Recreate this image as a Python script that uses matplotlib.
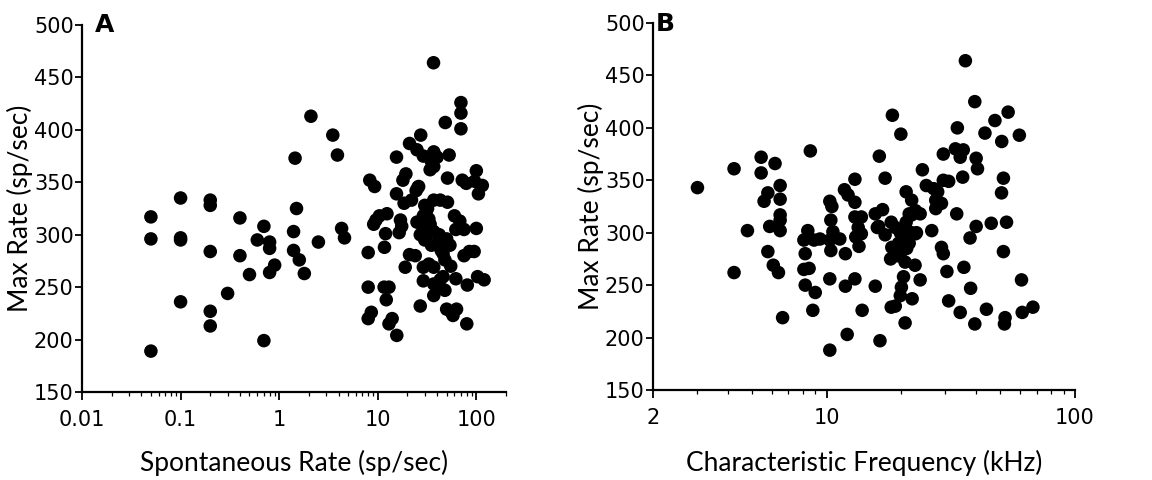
import matplotlib
matplotlib.use("Agg")
import matplotlib.pyplot as plt
from matplotlib.ticker import LogLocator, FixedLocator, FixedFormatter, NullFormatter

plt.rcParams['font.family'] = ['Lato', 'DejaVu Sans']

# ---------------- Panel A data: spontaneous rate vs max rate ----------------
spont_rate = [
    0.05, 0.05, 0.05, 0.1, 0.1, 0.1, 0.1, 0.2, 0.2, 0.2, 0.2, 0.2,
    0.3, 0.4, 0.4, 0.5, 0.6, 0.7, 0.7, 0.8, 0.8, 0.8, 0.9,
    1.4, 1.5, 1.45, 1.4, 1.6, 1.8, 2.1, 2.5, 3.5, 3.9, 4.3, 4.6,
    36.8, 69.8, 69.8, 69.8, 48.4, 27.3, 21.0, 25.0, 29.0, 37.0, 40.0, 35.0, 37.0,
    53.0, 15.5, 19.3, 18.0, 26.0, 24.5, 25.5, 22.0, 51.0, 72.0, 79.0, 96.0, 115.0,
    105.0, 100.0, 15.5, 18.5, 37.0, 43.0, 51.0, 30.0, 31.0, 29.0, 32.0, 25.0,
    28.0, 33.0, 37.0, 60.0, 68.0, 75.0, 62.0, 100.0, 17.0, 17.5, 16.5, 12.0,
    12.4, 10.4, 9.6, 9.1, 11.7, 8.0, 24.0, 19.0, 31.0, 30.0, 35.0, 40.0, 44.0,
    46.0, 50.0, 48.0, 54.0, 29.0, 37.0, 33.0, 29.0, 37.0, 40.0, 37.0, 46.0,
    48.0, 43.0, 62.0, 75.0, 85.0, 95.0, 81.0, 103.0, 120.0, 27.0, 50.0, 56.0,
    63.0, 58.0, 80.0, 8.0, 8.0, 8.6, 8.3, 9.3, 11.6, 13.0, 12.2, 13.0, 14.0,
    15.6, 21.0, 34.0, 42.0, 33.0, 55.0, 27.0, 31.0, 34.0, 30.0, 45.0,
]
max_rate_a = [
    317, 296, 189, 335, 297, 295, 236, 333, 328, 284, 227, 213,
    244, 316, 280, 262, 295, 308, 199, 293, 287, 264, 271,
    303, 325, 373, 285, 276, 263, 413, 293, 395, 376, 306, 297,
    464, 426, 416, 401, 407, 395, 387, 381, 375, 379, 374, 370, 365,
    376, 374, 358, 352, 346, 342, 345, 333, 354, 352, 349, 351, 347,
    339, 361, 339, 330, 333, 333, 331, 328, 322, 318, 325, 312,
    310, 308, 303, 318, 313, 305, 305, 306, 314, 308, 302, 301,
    320, 318, 314, 310, 288, 283, 280, 269, 300, 295, 290, 292, 285,
    282, 296, 276, 290, 269, 269, 272, 256, 253, 250, 242, 260,
    247, 257, 258, 280, 284, 284, 252, 260, 257, 232, 229, 226,
    229, 223, 215, 250, 220, 226, 352, 346, 250, 250, 238, 215, 220,
    204, 281, 362, 300, 315, 270, 300, 305, 310, 296, 288,
]

# ---------------- Panel B data: characteristic frequency vs max rate ----------------
char_freq = [
    3.02, 4.24, 4.24, 4.8, 5.45, 5.45, 5.8, 5.6, 6.2, 6.5, 6.5, 6.5, 6.5, 6.5,
    5.9, 5.8, 6.1, 6.4, 6.65, 8.4, 8.1, 8.9, 8.2, 8.1, 8.5, 8.2, 8.6, 9.0, 8.8,
    9.4, 10.3, 10.5, 10.4, 10.6, 10.3, 10.4, 11.3, 11.8, 12.2, 11.9, 10.3, 11.9,
    12.1, 10.3, 13.0, 13.0, 13.0, 13.8, 13.4, 13.8, 13.1, 13.5, 13.0, 13.9, 15.7,
    16.3, 17.2, 15.7, 16.8, 16.2, 17.2, 18.4, 19.9, 18.3, 18.1, 19.4, 18.2, 18.9,
    19.8, 20.3, 20.6, 20.9, 21.5, 19.8, 20.7, 22.0, 21.5, 22.8, 23.8, 20.9, 22.0,
    22.8, 22.0, 20.4, 20.0, 19.8, 18.9, 18.2, 20.7, 16.4, 22.7, 23.8, 22.1, 24.3,
    25.2, 27.0, 28.0, 27.5, 29.0, 27.5, 29.5, 31.0, 26.5, 29.0, 29.5, 30.5, 31.0,
    29.5, 33.0, 34.5, 35.5, 34.5, 33.6, 36.2, 35.3, 33.4, 39.5, 40.0, 40.5, 37.8,
    40.0, 35.7, 38.0, 34.5, 39.5, 43.4, 47.6, 53.8, 50.7, 51.5, 50.6, 53.0, 51.5,
    46.0, 44.0, 52.3, 52.0, 59.7, 60.9, 61.3, 67.7, 21.0, 19.5, 23.0, 16.0,
]
max_rate_b = [
    343, 361, 262, 302, 372, 357, 338, 330, 366, 345, 332, 317, 312, 302,
    306, 282, 269, 262, 219, 302, 293, 293, 280, 265, 266, 250, 378, 243, 226,
    294, 330, 325, 312, 301, 293, 283, 294, 341, 336, 280, 256, 249,
    203, 188, 351, 329, 315, 315, 305, 299, 296, 287, 256, 226, 249,
    373, 352, 318, 322, 306, 298, 412, 394, 286, 275, 278, 310, 305,
    300, 295, 305, 310, 290, 280, 272, 300, 318, 299, 318, 339, 331,
    321, 317, 258, 248, 240, 230, 229, 214, 197, 269, 255, 237, 360,
    345, 342, 339, 331, 328, 323, 350, 349, 302, 286, 280, 263, 235,
    375, 380, 377, 379, 372, 400, 464, 353, 318, 425, 371, 361, 295,
    306, 267, 247, 224, 213, 395, 407, 415, 387, 352, 338, 310, 282,
    309, 227, 219, 213, 393, 255, 224, 229, 285, 290, 300, 305,
]

yticks = [150, 200, 250, 300, 350, 400, 450, 500]

W, H = 1152, 480
fig = plt.figure(figsize=(W / 100, H / 100), dpi=100)

ax_a = fig.add_axes([82 / W, 1 - 392 / H, (506 - 82) / W, (392 - 25) / H])
ax_b = fig.add_axes([653 / W, 1 - 390 / H, (1075 - 653) / W, (390 - 23) / H])

ms = 95
tick_font = {'family': ['DejaVu Sans'], 'size': 15}

ax_a.scatter(spont_rate, max_rate_a, s=ms, c='black', edgecolors='none', zorder=3)
ax_a.set_xscale('log')
ax_a.set_xlim(0.01, 200)
ax_a.xaxis.set_major_locator(FixedLocator([0.01, 0.1, 1, 10, 100]))
ax_a.xaxis.set_major_formatter(FixedFormatter(['0.01', '0.1', '1', '10', '100']))
ax_a.xaxis.set_minor_locator(LogLocator(base=10, subs=range(2, 10), numticks=20))
ax_a.xaxis.set_minor_formatter(NullFormatter())
ax_a.set_xlabel('Spontaneous Rate (sp/sec)', fontsize=19, labelpad=14)

ax_b.scatter(char_freq, max_rate_b, s=ms, c='black', edgecolors='none', zorder=3)
ax_b.set_xscale('log')
ax_b.set_xlim(2, 100)
ax_b.xaxis.set_major_locator(FixedLocator([2, 10, 100]))
ax_b.xaxis.set_major_formatter(FixedFormatter(['2', '10', '100']))
ax_b.xaxis.set_minor_locator(LogLocator(base=10, subs=range(2, 10), numticks=20))
ax_b.xaxis.set_minor_formatter(NullFormatter())
ax_b.set_xlabel('Characteristic Frequency (kHz)', fontsize=19, labelpad=16)

for ax in (ax_a, ax_b):
    ax.set_ylim(150, 500)
    ax.set_yticks(yticks)
    ax.set_yticklabels([str(v) for v in yticks])
    ax.set_ylabel('Max Rate (sp/sec)', fontsize=19, labelpad=1)
    for s in ('top', 'right'):
        ax.spines[s].set_visible(False)
    for s in ('left', 'bottom'):
        ax.spines[s].set_linewidth(1.6)
        ax.spines[s].set_color('black')
    ax.tick_params(axis='both', which='major', direction='out',
                   length=5, width=1.3, colors='black')
    ax.tick_params(axis='y', which='major', pad=1)
    ax.tick_params(axis='x', which='major', pad=7, length=6)
    ax.tick_params(axis='x', which='minor', direction='out', length=3, width=0.9)
    for lbl in ax.get_xticklabels() + ax.get_yticklabels():
        lbl.set_fontfamily(tick_font['family'])
        lbl.set_fontsize(tick_font['size'])

fig.text(95 / W, 1 - 37 / H, 'A', fontsize=18, fontweight='bold',
         family=['DejaVu Sans'], ha='left', va='bottom')
fig.text(656 / W, 1 - 36 / H, 'B', fontsize=18, fontweight='bold',
         family=['DejaVu Sans'], ha='left', va='bottom')

fig.savefig('out.png', dpi=100, facecolor='white')
